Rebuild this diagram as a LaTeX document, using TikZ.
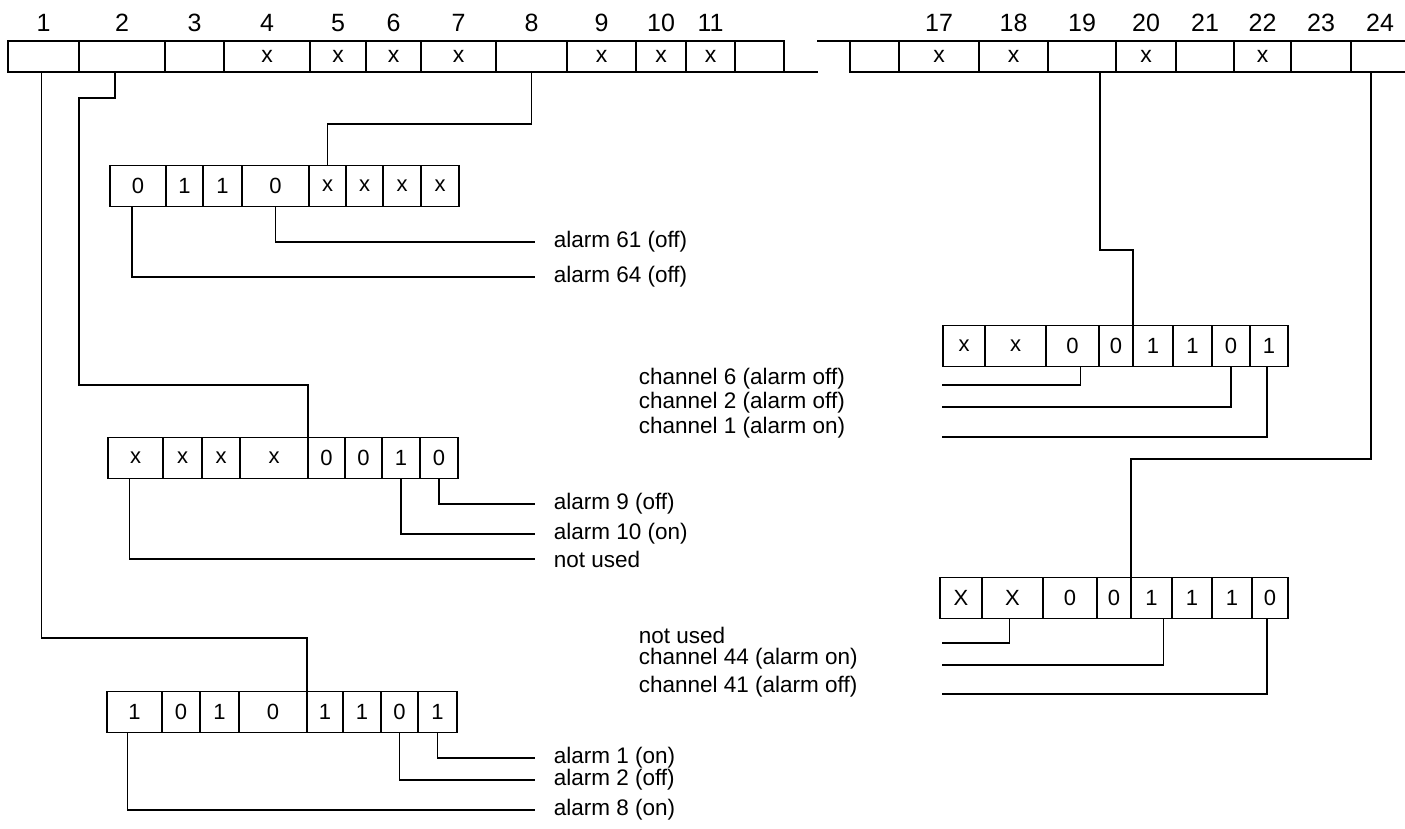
\documentclass[tikz,border=0pt]{standalone}
\usepackage{fontspec}
\setmainfont{Liberation Sans}
\begin{document}
\begin{tikzpicture}[x=1pt,y=-1pt,line width=1.7pt,
  cell/.style={draw,rectangle,inner sep=0pt,outer sep=0pt,minimum height=31pt,font=\fontsize{23}{23}\selectfont},
  bitA/.style={cell,minimum height=41pt,font=\fontsize{22}{22}\selectfont},
  num/.style={anchor=base,inner sep=0pt,font=\fontsize{25}{25}\selectfont},
  lab/.style={anchor=west,inner sep=0pt,font=\fontsize{22.5}{22.5}\selectfont}]
\useasboundingbox (0,0) rectangle (1405,829);

% top register, left part
\foreach \n/\l/\r/\t in {t1/8/79/,t2/79/165/,t3/165/224/,t4/224/310/x,t5/310/366/x,t6/366/421/x,t7/421/496/x,t8/496/567/,t9/567/636/x,t10/636/686/x,t11/686/735/x,t12/735/784/}
  \node[cell,minimum width={\r pt-\l pt}] (\n) at ({(\l+\r)/2},56.5) {\t};
\foreach \n/\k in {t1/1,t2/2,t3/3,t4/4,t5/5,t6/6,t7/7,t8/8,t9/9,t10/10,t11/11}
  \node[num] at ([yshift=9pt]\n.north) {\k};
\draw (t12.south east) -- ++(34,0);

% top register, right part
\foreach \n/\l/\r/\t in {r16/850/899/,r17/899/979/x,r18/979/1048/x,r19/1048/1116/,r20/1116/1176/x,r21/1176/1234/,r22/1234/1291/x,r23/1291/1351/,r24/1351/1409/}
  \node[cell,minimum width={\r pt-\l pt}] (\n) at ({(\l+\r)/2},56.5) {\t};
\foreach \n/\k in {r17/17,r18/18,r19/19,r20/20,r21/21,r22/22,r23/23,r24/24}
  \node[num] at ([yshift=9pt]\n.north) {\k};
\draw (r16.north west) -- ++(-33,0);

% byte A
\foreach \n/\l/\r/\t in {a1/110/166/0,a2/166/203/1,a3/203/242/1,a4/242/309/0,a5/309/346/x,a6/346/383/x,a7/383/421/x,a8/421/459/x}
  \node[bitA,minimum width={\r pt-\l pt}] (\n) at ({(\l+\r)/2},186) {\t};
% byte B
\foreach \n/\l/\r/\t in {b1/108/163/x,b2/163/202/x,b3/202/240/x,b4/240/308/x,b5/308/345/0,b6/345/382/0,b7/382/420/1,b8/420/458/0}
  \node[bitA,minimum width={\r pt-\l pt}] (\n) at ({(\l+\r)/2},458) {\t};
% byte C
\foreach \n/\l/\r/\t in {c1/107/162/1,c2/162/200/0,c3/200/239/1,c4/239/307/0,c5/307/343/1,c6/343/381/1,c7/381/418/0,c8/418/457/1}
  \node[bitA,minimum width={\r pt-\l pt}] (\n) at ({(\l+\r)/2},712) {\t};
% byte D
\foreach \n/\l/\r/\t in {d1/943/985/x,d2/985/1046/x,d3/1046/1099/0,d4/1099/1133/0,d5/1133/1173/1,d6/1173/1212/1,d7/1212/1250/0,d8/1250/1288/1}
  \node[bitA,minimum width={\r pt-\l pt}] (\n) at ({(\l+\r)/2},346) {\t};
% byte E
\foreach \n/\l/\r/\t in {e1/940/982/X,e2/982/1043/X,e3/1043/1097/0,e4/1097/1131/0,e5/1131/1172/1,e6/1172/1212/1,e7/1212/1252/1,e8/1252/1288/0}
  \node[bitA,minimum width={\r pt-\l pt}] (\n) at ({(\l+\r)/2},598) {\t};

% links from register to bytes
\coordinate (k2) at (79,385);
\draw (t8.south) -- ++(0,52) -| (a5.north);
\draw ([xshift=-7pt]t2.south) -- ++(0,26) -| (k2) -| (b5.north west);
\draw ([xshift=-2pt]t1.south) -- ++(0,566) -| (c5.north west);
\draw ([xshift=18pt]r19.south) -- ++(0,178) -| (d5.north west);
\draw ([xshift=-9pt]r24.south) -- ++(0,387) -| (e5.north west);

% left labels
\node[lab] (l61) at (553,242) {alarm 61 (off)};
\node[lab] (l64) at (553,277) {alarm 64 (off)};
\draw (a4.south) |- ([xshift=-18pt]l61.west);
\draw ([xshift=-6pt]a1.south) |- ([xshift=-18pt]l64.west);

\node[lab] (l9) at (553,504) {alarm 9 (off)};
\node[lab] (l10) at (553,534) {alarm 10 (on)};
\node[lab] (lnu) at (553,559) {not used};
\draw (b8.south) |- ([xshift=-18pt]l9.west);
\draw (b7.south) |- ([xshift=-18pt]l10.west);
\draw ([xshift=-6pt]b1.south) |- ([xshift=-18pt]lnu.west);

\node[lab] (l1) at (553,758) {alarm 1 (on)};
\node[lab] (l2) at (553,780) {alarm 2 (off)};
\node[lab] (l8) at (553,810) {alarm 8 (on)};
\draw (c8.south) |- ([xshift=-18pt]l1.west);
\draw (c7.south) |- ([xshift=-18pt]l2.west);
\draw ([xshift=-7pt]c1.south) |- ([xshift=-18pt]l8.west);

% right labels
\node[lab] (ch6) at (638,379) {channel 6 (alarm off)};
\node[lab] (ch2) at (638,403) {channel 2 (alarm off)};
\node[lab] (ch1) at (638,428) {channel 1 (alarm on)};
\coordinate (q6) at (942,385);
\coordinate (q2) at (942,407);
\coordinate (q1) at (942,437);
\draw ([xshift=8pt]d3.south) |- (q6);
\draw (d7.south) |- (q2);
\draw ([xshift=-2pt]d8.south) |- (q1);

\node[lab] (rnu) at (638,635) {not used};
\node[lab] (ch44) at (638,659) {channel 44 (alarm on)};
\node[lab] (ch41) at (638,687) {channel 41 (alarm off)};
\coordinate (p1) at (942,643);
\coordinate (p2) at (942,665);
\coordinate (p3) at (942,694);
\draw ([xshift=-3pt]e2.south) |- (p1);
\draw ([xshift=12pt]e5.south) |- (p2);
\draw ([xshift=-3pt]e8.south) |- (p3);
\end{tikzpicture}
\end{document}
